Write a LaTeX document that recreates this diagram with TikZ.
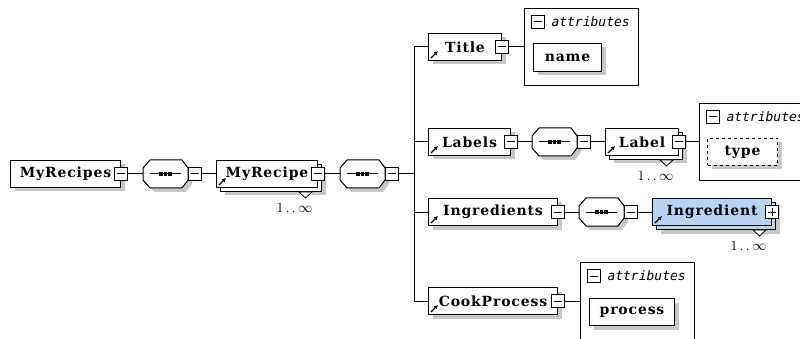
\documentclass[tikz,border=0pt]{standalone}
\usepackage{fontspec}
\newfontfamily\elemfont{DejaVu Serif}[LetterSpace=6]
\newfontfamily\attrfont{DejaVu Sans Mono}
\usetikzlibrary{positioning, calc, shadows, arrows.meta}
\definecolor{selblue}{RGB}{183,212,243}
% octagon of a sequence compositor, drawn on a placed node
\newcommand{\seqshape}[1]{%
    \draw[fill=white, boxshadow] ([xshift=7pt]#1.north west) -- ([xshift=-6pt]#1.north east) -- ([yshift=-8pt]#1.north east) -- ([yshift=8pt]#1.south east) -- ([xshift=-6pt]#1.south east) -- ([xshift=7pt]#1.south west) -- ([yshift=8pt]#1.south west) -- ([yshift=-8pt]#1.north west) -- cycle;
    \draw ([xshift=7pt]#1.west) -- ([xshift=-7pt]#1.east);
    \foreach \d in {-4.5,0,4.5} \fill ([xshift=\d pt]#1.center) +(-1.8pt,-1.8pt) rectangle +(1.8pt,1.8pt);}

\begin{document}
\begin{tikzpicture}[x=1pt, y=-1pt, line width=1pt]
    \tikzset{boxshadow/.style={drop shadow={shadow xshift=4pt, shadow yshift=-4pt, fill=black!22, opacity=1}}};
    \tikzset{elem/.style={draw, fill=white, boxshadow, anchor=north west, minimum height=27pt, inner sep=0pt, font=\elemfont\bfseries\fontsize{14}{16}\selectfont}};
    \tikzset{refarrow/.style={path picture={\draw[line width=1.4pt, -{Latex[length=4pt, width=4.5pt]}] ([shift={(2.5pt,2.5pt)}]path picture bounding box.south west) -- ++(7pt,7pt);}}};
    \tikzset{stacked/.style={elem, refarrow, fill=#1, drop shadow={shadow xshift=8pt, shadow yshift=-8pt, fill=black!22, opacity=1}, copy shadow={shadow xshift=4pt, shadow yshift=-4pt, fill=#1, draw=black}}, stacked/.default=white};
    \tikzset{minusbox/.style={draw, fill=white, minimum size=13pt, inner sep=0pt, path picture={\draw ([xshift=2.5pt]path picture bounding box.west) -- ([xshift=-2.5pt]path picture bounding box.east);}}};
    \tikzset{plusbox/.style={minusbox, path picture={\draw ([xshift=2.5pt]path picture bounding box.west) -- ([xshift=-2.5pt]path picture bounding box.east); \draw ([yshift=-2.5pt]path picture bounding box.north) -- ([yshift=2.5pt]path picture bounding box.south);}}};
    \tikzset{seqbox/.style={minimum width=44pt, minimum height=27pt, inner sep=0pt}};
    \tikzset{attrgroup/.style={draw, fill=white, minimum width=114pt, minimum height=77pt, inner sep=0pt}};
    \tikzset{attrbox/.style={elem, minimum height=27pt}};
    \tikzset{attrhead/.style={font=\attrfont\itshape\fontsize{13}{15}\selectfont, inner sep=0pt}};
    \tikzset{mult/.style={font=\fontsize{14}{16}\selectfont, inner sep=0pt}};
    \tikzset{notch/.style={draw, fill=white, line width=0.8pt}};
    \clip (0,0) rectangle (800,339);
    % root element and its sequence
    \node[elem, minimum width=110pt] (recipes) at (10,160) {MyRecipes};
    \node[minusbox] (recipesx) at (recipes.east) {};
    \node[seqbox, right=15pt of recipesx] (seqa) {};
    \seqshape{seqa}
    \node[minusbox, anchor=west] (seqax) at (seqa.east) {};
    \node[stacked, minimum width=101pt, right=14pt of seqax] (myrecipe) {MyRecipe};
    \node[minusbox] (myrecipex) at (myrecipe.east) {};
    \draw[notch] ($(myrecipe.south east)+(-19,4)$) -- ++(13,0) -- ++(-6.5,6) -- cycle;
    \node[mult, anchor=east] (myrecipem) at ($(myrecipe.south east)+(-5,20)$) {1\,.\,.\,$\infty$};
    \node[seqbox, right=15pt of myrecipex] (seqb) {};
    \seqshape{seqb}
    \node[minusbox, anchor=west] (seqbx) at (seqb.east) {};
    \coordinate (trunk) at ($(seqbx.east)+(15,0)$);
    \draw (recipesx.east) -- (seqa.west);
    \draw (seqax.east) -- (myrecipe.west);
    \draw (myrecipex.east) -- (seqb.west);
    \draw (seqbx.east) -- (trunk);
    % children of the sequence
    \node[elem, refarrow, minimum width=73pt] (title) at (428,33) {Title};
    \node[elem, refarrow, minimum width=82pt] (labels) at (428,128) {Labels};
    \node[elem, refarrow, minimum width=129pt] (ingredients) at (428,198) {Ingredients};
    \node[elem, refarrow, minimum width=129pt] (cookprocess) at (428,287) {CookProcess};
    \foreach \n in {title, labels, ingredients, cookprocess} {
        \node[minusbox] (\n x) at (\n.east) {};
        \draw (\n.west) -| (trunk);
    }
    % Title attributes
    \node[attrgroup, right=15pt of titlex] (titleattr) {};
    \node[minusbox, below right=7pt and 7pt of titleattr.north west] (titleattrx) {};
    \node[attrhead, right=6pt of titleattrx] (titleattrh) {attributes};
    \node[attrbox, below right=35pt and 9pt of titleattr.north west, minimum width=68pt, minimum height=28pt] (nameattr) {name};
    \draw (titlex.east) -- (titleattr.west);
    % Labels sequence
    \node[seqbox, right=14pt of labelsx] (seqc) {};
    \seqshape{seqc}
    \node[minusbox, anchor=west] (seqcx) at (seqc.east) {};
    \node[stacked, minimum width=73pt, right=14pt of seqcx] (label) {Label};
    \node[minusbox] (labelx) at (label.east) {};
    \draw[notch] ($(label.south east)+(-19,4)$) -- ++(13,0) -- ++(-6.5,6) -- cycle;
    \node[mult, anchor=east] (labelm) at ($(label.south east)+(-5,20)$) {1\,.\,.\,$\infty$};
    \node[attrgroup, right=13pt of labelx] (labelattr) {};
    \node[minusbox, below right=7pt and 7pt of labelattr.north west] (labelattrx) {};
    \node[attrhead, right=6pt of labelattrx] (labelattrh) {attributes};
    \node[attrbox, dashed, below right=35pt and 8pt of labelattr.north west, minimum width=70pt] (typeattr) {type};
    \draw (labelsx.east) -- (seqc.west);
    \draw (seqcx.east) -- (label.west);
    \draw (labelx.east) -- (labelattr.west);
    % Ingredients sequence
    \node[seqbox, right=14pt of ingredientsx] (seqd) {};
    \seqshape{seqd}
    \node[minusbox, anchor=west] (seqdx) at (seqd.east) {};
    \node[stacked=selblue, minimum width=119pt, right=14pt of seqdx] (ingredient) {Ingredient};
    \node[plusbox] (ingredientx) at (ingredient.east) {};
    \draw[notch] ($(ingredient.south east)+(-19,4)$) -- ++(13,0) -- ++(-6.5,6) -- cycle;
    \node[mult, anchor=east] (ingredientm) at ($(ingredient.south east)+(-5,20)$) {1\,.\,.\,$\infty$};
    \draw (ingredientsx.east) -- (seqd.west);
    \draw (seqdx.east) -- (ingredient.west);
    % CookProcess attributes
    \node[attrgroup, right=15pt of cookprocessx] (cookattr) {};
    \node[minusbox, below right=7pt and 7pt of cookattr.north west] (cookattrx) {};
    \node[attrhead, right=6pt of cookattrx] (cookattrh) {attributes};
    \node[attrbox, below right=36pt and 9pt of cookattr.north west, minimum width=85pt] (processattr) {process};
    \draw (cookprocessx.east) -- (cookattr.west);
\end{tikzpicture}
\end{document}
